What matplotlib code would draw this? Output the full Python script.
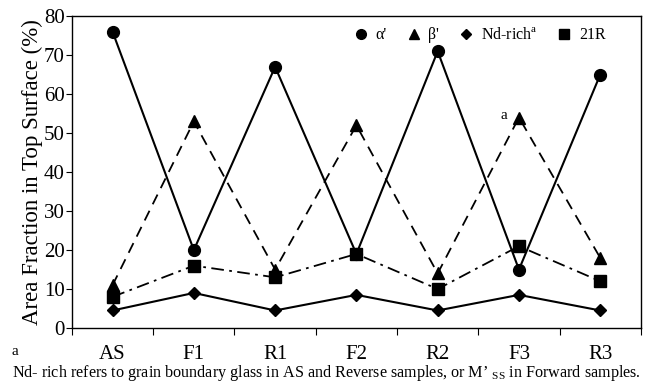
import matplotlib.pyplot as plt
from matplotlib.lines import Line2D

plt.rcParams['font.family'] = ['Liberation Serif', 'DejaVu Serif']
plt.rcParams['mathtext.fontset'] = 'custom'
plt.rcParams['mathtext.rm'] = 'Liberation Serif'

# Area fraction (%) of each phase in the top surface
samples = ["AS", "F1", "R1", "F2", "R2", "F3", "R3"]
alpha = [76, 20, 67, 19, 71, 15, 65]
beta = [11, 53, 15, 52, 14, 54, 18]
nd_rich = [4.5, 9, 4.5, 8.5, 4.5, 8.5, 4.5]
r21 = [8, 16, 13, 19, 10, 21, 12]

fig = plt.figure(figsize=(6.48, 3.85), dpi=100)
ax = fig.add_axes([0.111, 0.148, 0.878, 0.810])

x = range(len(samples))
ax.plot(x, alpha, color='black', lw=1.5, ls='-', marker='o', ms=8.5)
ax.plot(x, beta, color='black', lw=1.3, ls=(0, (6, 4)), marker='^', ms=8.5)
ax.plot(x, nd_rich, color='black', lw=1.5, ls='-', marker='D', ms=6.5)
ax.plot(x, r21, color='black', lw=1.3, ls=(0, (7, 3, 1.5, 3)), marker='s', ms=8)

ax.set_xlim(-0.5, len(samples) - 0.5)
ax.set_ylim(0, 80)
ax.set_yticks(range(0, 81, 10))
ax.set_xticks([i + 0.5 for i in range(-1, len(samples))])
ax.set_xticklabels([])
ax.tick_params(axis='x', direction='out', length=5, width=0.8)
ax.tick_params(axis='y', direction='out', length=4, width=0.8, labelsize=15, pad=1)
for i, s in enumerate(samples):
    ax.text(i, -0.055, s, transform=ax.get_xaxis_transform(), ha='center', va='top', fontsize=15)
for sp in ax.spines.values():
    sp.set_linewidth(1.0)

ax.set_ylabel("Area Fraction in Top Surface (%)", fontsize=16.5, labelpad=1)

# footnote marker on the F3 beta point
ax.text(4.86, 54.5, "a", fontsize=11, ha='right', va='center')

handles = [
    Line2D([], [], color='black', ls='none', marker='o', ms=7),
    Line2D([], [], color='black', ls='none', marker='^', ms=7),
    Line2D([], [], color='black', ls='none', marker='D', ms=5),
    Line2D([], [], color='black', ls='none', marker='s', ms=6.5),
]
labels = ["α'", "β'", "Nd-rich$^{\\mathregular{a}}$", "21R"]
ax.legend(handles, labels, loc='upper right', bbox_to_anchor=(0.963, 1.01), ncol=4,
          frameon=False, fontsize=11.5, handletextpad=0.3, columnspacing=1.1, handlelength=1.2)

fig.text(0.018, 0.088, "a", fontsize=11, ha='left', va='center')
fig.text(0.503, 0.03, "Nd- rich refers to grain boundary glass in AS and Reverse samples, or M’ $_{\\mathregular{SS}}$ in Forward samples.",
         fontsize=11.6, ha='center', va='center')

fig.savefig("out.png", dpi=100)
